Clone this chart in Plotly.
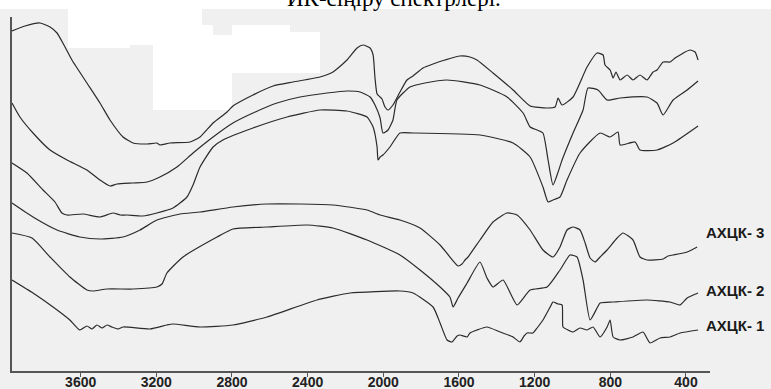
import plotly.graph_objects as go

# ---------------- data (wavenumber, cm-1  /  relative transmittance, a.u.) -------------
tick_vals = [3600, 3200, 2800, 2400, 2000, 1600, 1200, 800, 400]
series_names = ["", "", "", "АХЦК- 3", "АХЦК- 2", "АХЦК- 1"]

wn_a = [3963, 3894, 3815, 3762, 3725, 3694, 3646, 3567, 3498, 3445, 3376, 3323, 3249, 3197, 3181,
        3128, 3022, 2969, 2900, 2826, 2795, 2689, 2583, 2477, 2335, 2266, 2192, 2139, 2107, 2070,
        2054, 2044, 2033, 2017, 2007, 1991, 1975, 1949, 1912, 1875, 1843, 1790, 1737, 1674, 1595,
        1542, 1505, 1420, 1314, 1224, 1134, 1092, 1076, 1055, 997, 923, 870, 838, 828, 801, 785,
        770, 748, 711, 680, 643, 606, 574, 553, 521, 484, 458, 431, 405, 378, 352, 336]
tr_a = [340, 345, 348, 344, 338, 328, 311, 288, 268, 251, 234, 228, 227, 228, 226,
        228, 229, 234, 248, 259, 265, 276, 285, 289, 294, 299, 311, 323, 326, 323,
        316, 293, 277, 274, 272, 264, 261, 266, 279, 291, 295, 303, 307, 311, 315,
        314, 311, 298, 281, 265, 263, 264, 273, 266, 274, 304, 318, 316, 306, 301, 293,
        299, 291, 296, 291, 296, 291, 299, 301, 309, 309, 313, 316, 319, 321, 319, 311]

wn_b = [3963, 3921, 3852, 3762, 3672, 3567, 3498, 3445, 3408, 3323, 3249, 3181, 3091, 3006, 2900,
        2795, 2689, 2562, 2441, 2298, 2192, 2123, 2070, 2044, 2017, 2002, 1975, 1949, 1928, 1859,
        1780, 1663, 1489, 1346, 1261, 1224, 1187, 1156, 1129, 1103, 1076, 1055, 997, 944, 918,
        865, 817, 748, 606, 553, 521, 468, 394, 336]
tr_b = [268, 254, 238, 221, 211, 201, 191, 185, 187, 188, 189, 194, 204, 218, 234,
        248, 258, 268, 274, 278, 280, 279, 274, 266, 253, 238, 241, 251, 271, 284,
        288, 291, 286, 274, 258, 244, 241, 238, 211, 186, 199, 211, 238, 261, 283,
        281, 271, 273, 274, 268, 256, 271, 281, 290]

wn_c = [3963, 3884, 3799, 3736, 3699, 3672, 3588, 3498, 3429, 3392, 3355, 3271, 3197, 3112, 3038,
        3006, 2969, 2900, 2848, 2689, 2509, 2335, 2192, 2086, 2054, 2033, 2028, 2017, 2002, 1965,
        1912, 1843, 1489, 1314, 1224, 1156, 1129, 1103, 1066, 1029, 960, 854, 801, 759, 748,
        669, 643, 553, 468, 336]
tr_c = [208, 198, 181, 169, 158, 156, 157, 154, 158, 156, 156, 155, 158, 163, 174,
        186, 204, 224, 231, 243, 254, 261, 260, 254, 244, 224, 211, 214, 216, 224,
        238, 238, 236, 228, 214, 184, 169, 171, 174, 191, 218, 238, 234, 239, 226,
        229, 221, 221, 228, 245]

wn_3 = [3963, 3852, 3725, 3604, 3498, 3376, 3286, 3197, 3075, 2969, 2795, 2615, 2440, 2266, 2086,
        2017, 1912, 1806, 1700, 1605, 1584, 1568, 1552, 1489, 1420, 1346, 1293, 1224, 1156, 1103,
        1066, 1029, 997, 960, 933, 907, 881, 854, 817, 764, 733, 680, 643, 606, 521,
        495, 468, 394, 341]
tr_3 = [168, 154, 141, 134, 132, 134, 141, 151, 157, 159, 164, 167, 167, 166, 161,
        156, 151, 143, 126, 105, 107, 111, 114, 131, 149, 158, 156, 141, 121, 114,
        124, 141, 144, 141, 128, 113, 109, 114, 121, 133, 138, 131, 114, 111, 112,
        115, 116, 119, 124]

wn_2 = [3963, 3857, 3762, 3657, 3567, 3535, 3461, 3323, 3197, 3170, 3144, 3059, 2879, 2795, 2615,
        2403, 2266, 2086, 1912, 1806, 1700, 1648, 1631, 1605, 1557, 1489, 1452, 1420, 1367, 1293,
        1224, 1134, 1066, 1013, 976, 944, 907, 870, 854, 785, 606, 484, 431, 394, 336]
tr_2 = [138, 133, 114, 94, 81, 80, 82, 82, 84, 87, 98, 114, 134, 142, 144,
        146, 143, 131, 116, 101, 84, 74, 64, 73, 88, 109, 93, 84, 91, 66,
        81, 84, 101, 116, 114, 91, 51, 63, 68, 69, 71, 69, 66, 73, 78]

wn_1 = [3963, 3852, 3746, 3657, 3604, 3567, 3540, 3514, 3487, 3461, 3435, 3402, 3375, 3234, 3144,
        3112, 2969, 2795, 2615, 2351, 2176, 1912, 1843, 1737, 1700, 1663, 1637, 1610, 1595, 1557,
        1542, 1505, 1452, 1383, 1314, 1278, 1256, 1240, 1209, 1187, 1156, 1118, 1103, 1076, 1055,
        1050, 1024, 997, 960, 923, 891, 854, 817, 801, 785, 748, 680, 627, 590, 537,
        484, 431, 336]
tr_1 = [91, 78, 64, 51, 41, 45, 42, 46, 43, 46, 44, 42, 44, 42, 46,
        47, 44, 46, 54, 71, 78, 80, 78, 64, 48, 31, 29, 35, 36, 34,
        38, 41, 44, 39, 34, 29, 35, 38, 38, 43, 51, 64, 69, 67, 66,
        44, 41, 39, 43, 41, 44, 34, 44, 51, 34, 31, 34, 39, 28, 33,
        34, 38, 41]

title_text = "ИК-сіңіру спектрлері."

# ---------------- figure -------------------------------------------------------------
W, H = 771, 389
L, R, T, B = 12, 61, 17, 18
PW, PH = W - L - R, H - T - B


def px(xp):
    return (xp - L) / PW


def py(yp):
    return (H - B - yp) / PH


fig = go.Figure()
line_style = dict(color="#2b2b2b", width=1.2, shape="spline", smoothing=0.5)
for wn, tr in [(wn_a, tr_a), (wn_b, tr_b), (wn_c, tr_c), (wn_3, tr_3), (wn_2, tr_2), (wn_1, tr_1)]:
    fig.add_trace(go.Scatter(x=wn, y=tr, mode="lines", line=line_style,
                             showlegend=False, hoverinfo="skip"))

# curve labels
label_y = {"АХЦК- 3": 233, "АХЦК- 2": 290, "АХЦК- 1": 325}
for name in series_names:
    if name:
        fig.add_annotation(x=px(704), y=py(label_y[name]), xref="paper", yref="paper",
                           text=name, showarrow=False, xanchor="left", yanchor="middle",
                           font=dict(family="Liberation Sans, Arial", size=15,
                                     color="#1a1a1a", weight="bold"))

# cropped title at the top
fig.add_annotation(x=px(394), y=py(-1), xref="paper", yref="paper", text=title_text,
                   showarrow=False, xanchor="center", yanchor="middle",
                   font=dict(family="Liberation Serif, Times New Roman", size=23, color="#000"))

# white scan patches on the grey background
white_rects = [
    (-20, W + 20, -20, 9),
    (68, 130, 9, 48), (130, 153, 9, 45),
    (153, 202, 9, 110), (202, 213, 25, 110), (213, 232, 35, 110),
    (232, 290, 25, 73), (290, 320, 32, 73),
]
for x0, x1, y0, y1 in white_rects:
    fig.add_shape(type="rect", xref="paper", yref="paper",
                  x0=px(x0), x1=px(x1), y0=py(y1), y1=py(y0),
                  fillcolor="white", line=dict(width=0), layer="below")

fig.update_layout(
    width=W, height=H,
    margin=dict(l=L, r=R, t=T, b=B, pad=0, autoexpand=False),
    paper_bgcolor="#f0f0f0",
    plot_bgcolor="rgba(0,0,0,0)",
    xaxis=dict(range=[3963, 273], tickvals=tick_vals, ticktext=[str(v) for v in tick_vals],
               ticks="outside", ticklen=4, tickwidth=1, tickcolor="#555",
               ticklabelstandoff=-7,
               showline=True, linecolor="#555", linewidth=1.5,
               showgrid=False, zeroline=False, automargin=False,
               tickfont=dict(family="Liberation Sans, Arial", size=14, color="#222", weight="bold")),
    yaxis=dict(range=[0, PH], showticklabels=False, ticks="", automargin=False,
               showline=True, linecolor="#555", linewidth=1.5,
               showgrid=False, zeroline=False),
)

fig.write_html("out.html", config={"displayModeBar": False},
               post_script="document.body.style.margin='0';document.body.style.overflow='hidden';")
